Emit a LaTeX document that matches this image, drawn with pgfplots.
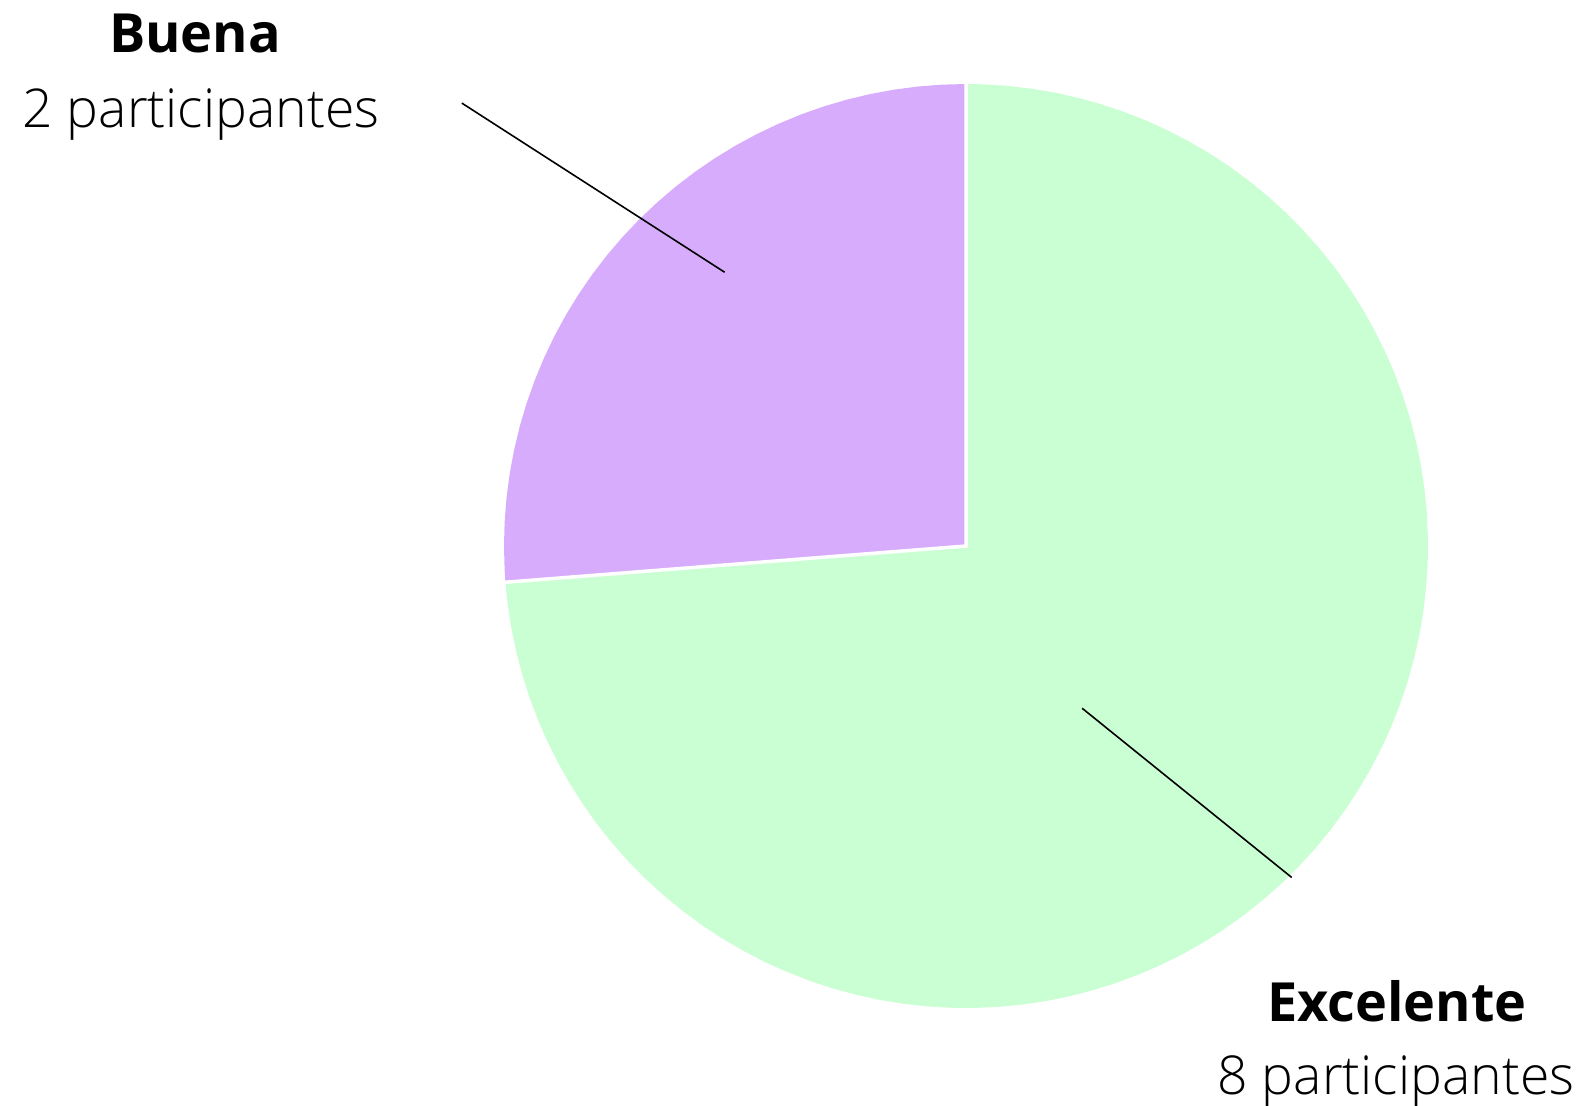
\documentclass[border=0pt]{standalone}
\usepackage{pgfplots}
\pgfplotsset{compat=1.18}
\usepgfplotslibrary{polar}
\usepackage{fontspec}
\setmainfont{Open Sans}
\newfontfamily\lightfont{Open Sans Light}
\definecolor{buena}{HTML}{D8ACFC}
\definecolor{excel}{HTML}{CAFED3}

\begin{document}
\begin{tikzpicture}
\useasboundingbox (0pt,0pt) rectangle (1583pt,-1106pt);
\begin{polaraxis}[
  at={(966pt,-546pt)}, anchor=origin,
  scale only axis, width=924pt, height=924pt,
  ymin=0, ymax=1, hide axis, clip=false,
]
% Buena: 2 participantes
\addplot[fill=buena, draw=none] coordinates {
  (0,0) (90,1) (93,1) (96,1) (99,1) (102,1) (105,1) (108,1) (111,1) (114,1)
  (117,1) (120,1) (123,1) (126,1) (129,1) (132,1) (135,1) (138,1) (141,1)
  (144,1) (147,1) (150,1) (153,1) (156,1) (159,1) (162,1) (165,1) (168,1)
  (171,1) (174,1) (177,1) (180,1) (183,1) (184.5,1)} -- cycle;
% Excelente: 8 participantes
\addplot[fill=excel, draw=none] coordinates {
  (0,0) (184.5,1) (187,1) (190,1) (193,1) (196,1) (199,1) (202,1) (205,1)
  (208,1) (211,1) (214,1) (217,1) (220,1) (223,1) (226,1) (229,1) (232,1)
  (235,1) (238,1) (241,1) (244,1) (247,1) (250,1) (253,1) (256,1) (259,1)
  (262,1) (265,1) (268,1) (271,1) (274,1) (277,1) (280,1) (283,1) (286,1)
  (289,1) (292,1) (295,1) (298,1) (301,1) (304,1) (307,1) (310,1) (313,1)
  (316,1) (319,1) (322,1) (325,1) (328,1) (331,1) (334,1) (337,1) (340,1)
  (343,1) (346,1) (349,1) (352,1) (355,1) (358,1) (361,1) (364,1) (367,1)
  (370,1) (373,1) (376,1) (379,1) (382,1) (385,1) (388,1) (391,1) (394,1)
  (397,1) (400,1) (403,1) (406,1) (409,1) (412,1) (415,1) (418,1) (421,1)
  (424,1) (427,1) (430,1) (433,1) (436,1) (439,1) (442,1) (445,1) (448,1)
  (450,1)} -- cycle;
% white separators
\addplot[white, line width=3.5pt, line join=miter] coordinates {(90,1.01) (0,0) (184.5,1.01)};
% leader lines
\addplot[black, line width=1.6pt] coordinates {(138.7,1.4525) (131.4,0.790)};
\addplot[black, line width=1.6pt] coordinates {(-54.4,0.432) (-45.5,1.006)};
\end{polaraxis}
\node[anchor=base, inner sep=0pt, font=\bfseries\fontsize{54}{60}\selectfont] at (195pt,-52pt) {Buena};
\node[anchor=base, inner sep=0pt, font=\lightfont\fontsize{53.5}{60}\selectfont] at (201pt,-127pt) {2 participantes};
\node[anchor=base, inner sep=0pt, font=\bfseries\fontsize{54}{60}\selectfont] at (1397pt,-1021pt) {Excelente};
\node[anchor=base, inner sep=0pt, font=\lightfont\fontsize{53.5}{60}\selectfont] at (1396pt,-1094pt) {8 participantes};
\end{tikzpicture}
\end{document}
